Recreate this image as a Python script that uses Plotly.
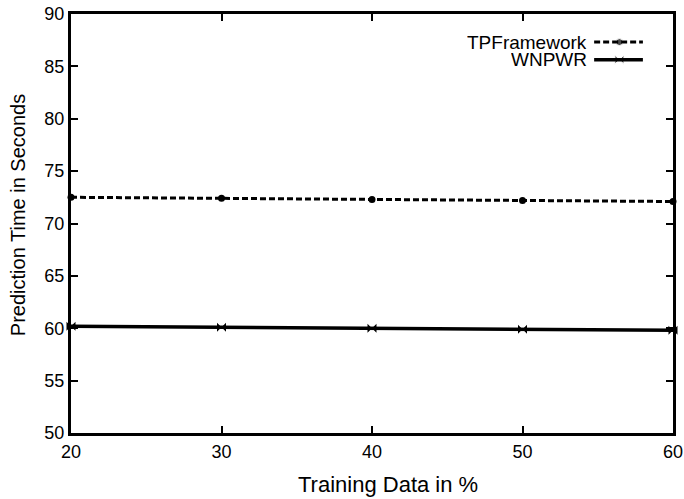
import plotly.graph_objects as go

x_vals = [20, 30, 40, 50, 60]
tp_framework = [72.5, 72.4, 72.3, 72.2, 72.1]
wnpwr = [60.2, 60.1, 60.0, 59.9, 59.8]
series_names = ["TPFramework", "WNPWR"]
x_title = "Training Data in %"
y_title = "Prediction Time in Seconds"

fig = go.Figure()
fig.add_trace(go.Scatter(x=x_vals, y=tp_framework, mode="lines+markers", name=series_names[0],
                         line=dict(color="black", width=3, dash="6px,3px"),
                         marker=dict(symbol="circle", size=7, color="black"),
                         showlegend=False, cliponaxis=False))
fig.add_trace(go.Scatter(x=x_vals, y=wnpwr, mode="lines+markers", name=series_names[1],
                         line=dict(color="black", width=3.5),
                         marker=dict(symbol="bowtie", size=9, color="black"),
                         showlegend=False, cliponaxis=False))

family = "Liberation Sans, Arial, sans-serif"
tick_font = dict(family=family, size=18, color="black")
legend_font = dict(family=family, size=19, color="black")

# legend (text left of sample, gnuplot style)
leg_items = [(series_names[0], "6px,3px", 3), (series_names[1], "solid", 3.5)]
leg_y = [0.933, 0.891]
for (name, dash, w), yp in zip(leg_items, leg_y):
    fig.add_annotation(x=0.861, y=yp, xref="paper", yref="paper", text=name, showarrow=False,
                       xanchor="right", yanchor="middle", font=legend_font, height=17)
    fig.add_shape(type="line", xref="paper", yref="paper", x0=0.869, x1=0.950, y0=yp, y1=yp,
                  line=dict(color="black", width=w, dash=dash))

fig.add_trace(go.Scatter(x=[0.911, 0.911], y=leg_y, xaxis="x2", yaxis="y2", mode="markers",
                         marker=dict(symbol=["circle", "bowtie"], size=[7, 9], color="black"),
                         showlegend=False, hoverinfo="skip"))

# axis titles
fig.add_annotation(x=0.527, y=-0.122, xref="paper", yref="paper", text=x_title, showarrow=False,
                   xanchor="center", yanchor="middle", font=dict(family=family, size=22, color="black"))
fig.add_annotation(x=-0.088, y=0.520, xref="paper", yref="paper", text=y_title, showarrow=False,
                   textangle=-90, xanchor="center", yanchor="middle",
                   font=dict(family=family, size=20, color="black"))

fig.update_layout(
    width=684, height=499,
    margin=dict(l=71, r=11, t=14, b=66, autoexpand=False),
    paper_bgcolor="white", plot_bgcolor="white",
    font=tick_font,
    xaxis=dict(range=[20, 60], tickvals=[20, 30, 40, 50, 60], ticks="inside", ticklen=7,
               tickwidth=2, tickcolor="black", showline=True, linecolor="black", linewidth=3,
               mirror="ticks", showgrid=False, zeroline=False, automargin=False,
               ticklabeloverflow="allow", tickfont=tick_font),
    yaxis=dict(range=[50, 90], tickvals=list(range(50, 91, 5)), ticks="inside", ticklen=7,
               tickwidth=2, tickcolor="black", showline=True, linecolor="black", linewidth=3,
               mirror="ticks", showgrid=False, zeroline=False, automargin=False,
               ticklabeloverflow="allow", tickfont=tick_font),
    xaxis2=dict(range=[0, 1], domain=[0, 1], overlaying="x", visible=False, anchor="y2"),
    yaxis2=dict(range=[0, 1], domain=[0, 1], overlaying="y", visible=False, anchor="x2"),
)

fig.write_html("out.html", config={"displayModeBar": False},
               post_script="document.body.style.margin='0';document.body.style.overflow='hidden';")
